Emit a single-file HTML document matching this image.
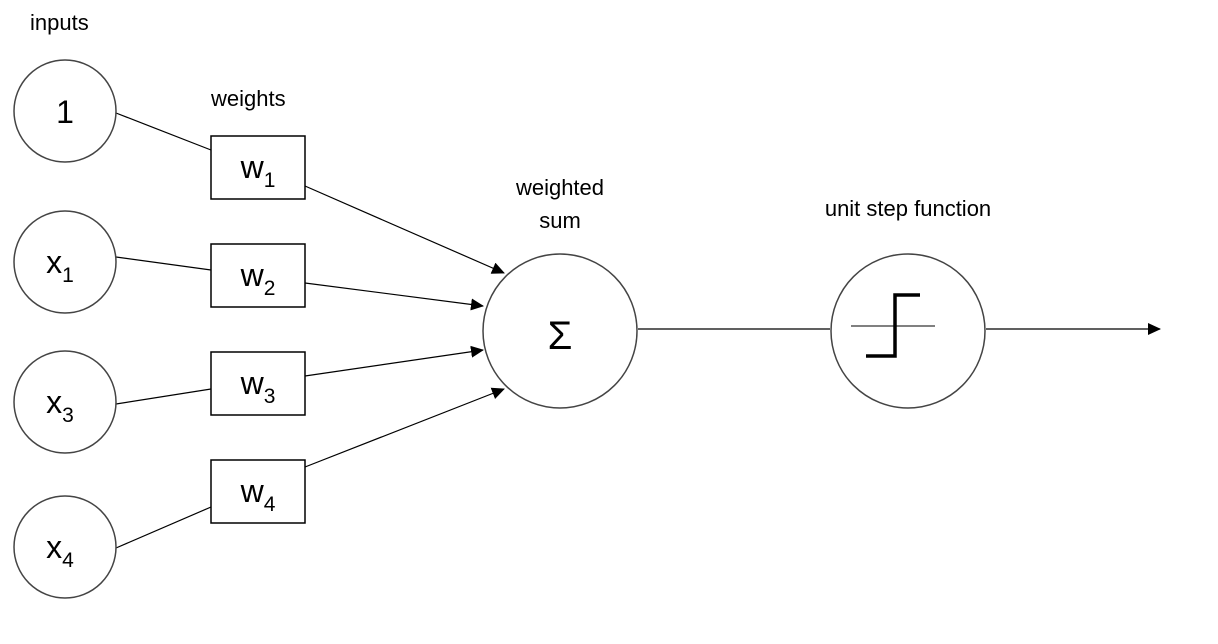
<!DOCTYPE html>
<html><head><style>
html,body{margin:0;padding:0;background:#fff;}
svg{display:block;}
text{font-family:"Liberation Sans",Arial,sans-serif;fill:#000;}
</style></head><body>
<svg width="1218" height="644" viewBox="0 0 1218 644" xmlns="http://www.w3.org/2000/svg">
<defs>
<marker id="a" markerWidth="13" markerHeight="12" refX="12" refY="6" orient="auto" markerUnits="userSpaceOnUse">
<path d="M0,0 L13,6 L0,12 z" fill="#000"/>
</marker>
</defs>
<g font-size="22">
<text x="30" y="30">inputs</text>
<text x="211" y="106">weights</text>
<text x="560" y="195" text-anchor="middle">weighted</text>
<text x="560" y="228" text-anchor="middle">sum</text>
<text x="908" y="216" text-anchor="middle">unit step function</text>
</g>
<g stroke="#000" stroke-width="1.2" fill="none">
<line x1="116" y1="113" x2="211" y2="150"/>
<line x1="116" y1="257" x2="211" y2="270"/>
<line x1="116" y1="404" x2="211" y2="389"/>
<line x1="116" y1="548" x2="211" y2="507"/>
<line x1="305" y1="186" x2="504" y2="273" marker-end="url(#a)"/>
<line x1="305" y1="283" x2="483" y2="306" marker-end="url(#a)"/>
<line x1="305" y1="376" x2="483" y2="350" marker-end="url(#a)"/>
<line x1="305" y1="467" x2="504" y2="389" marker-end="url(#a)"/>
<line x1="638" y1="329" x2="830" y2="329"/>
<line x1="986" y1="329" x2="1160" y2="329" marker-end="url(#a)"/>
</g>
<g stroke="#444" stroke-width="1.5" fill="#fff">
<circle cx="65" cy="111" r="51"/>
<circle cx="65" cy="262" r="51"/>
<circle cx="65" cy="402" r="51"/>
<circle cx="65" cy="547" r="51"/>
<circle cx="560" cy="331" r="77"/>
<circle cx="908" cy="331" r="77"/>
</g>
<g stroke="#000" stroke-width="1.5" fill="#fff">
<rect x="211" y="136" width="94" height="63"/>
<rect x="211" y="244" width="94" height="63"/>
<rect x="211" y="352" width="94" height="63"/>
<rect x="211" y="460" width="94" height="63"/>
</g>
<g font-size="32" text-anchor="middle">
<text x="65" y="123">1</text>
<text x="60" y="273">x<tspan font-size="21" dy="9">1</tspan></text>
<text x="60" y="413">x<tspan font-size="21" dy="9">3</tspan></text>
<text x="60" y="558">x<tspan font-size="21" dy="9">4</tspan></text>
<text x="258" y="178">w<tspan font-size="21" dy="9">1</tspan></text>
<text x="258" y="286">w<tspan font-size="21" dy="9">2</tspan></text>
<text x="258" y="394">w<tspan font-size="21" dy="9">3</tspan></text>
<text x="258" y="502">w<tspan font-size="21" dy="9">4</tspan></text>
</g>
<text x="560" y="349" font-size="40" text-anchor="middle">Σ</text>
<line x1="851" y1="326" x2="935" y2="326" stroke="#000" stroke-width="1"/>
<polyline points="866,356 895,356 895,295 920,295" fill="none" stroke="#000" stroke-width="3.5"/>
</svg>
</body></html>
